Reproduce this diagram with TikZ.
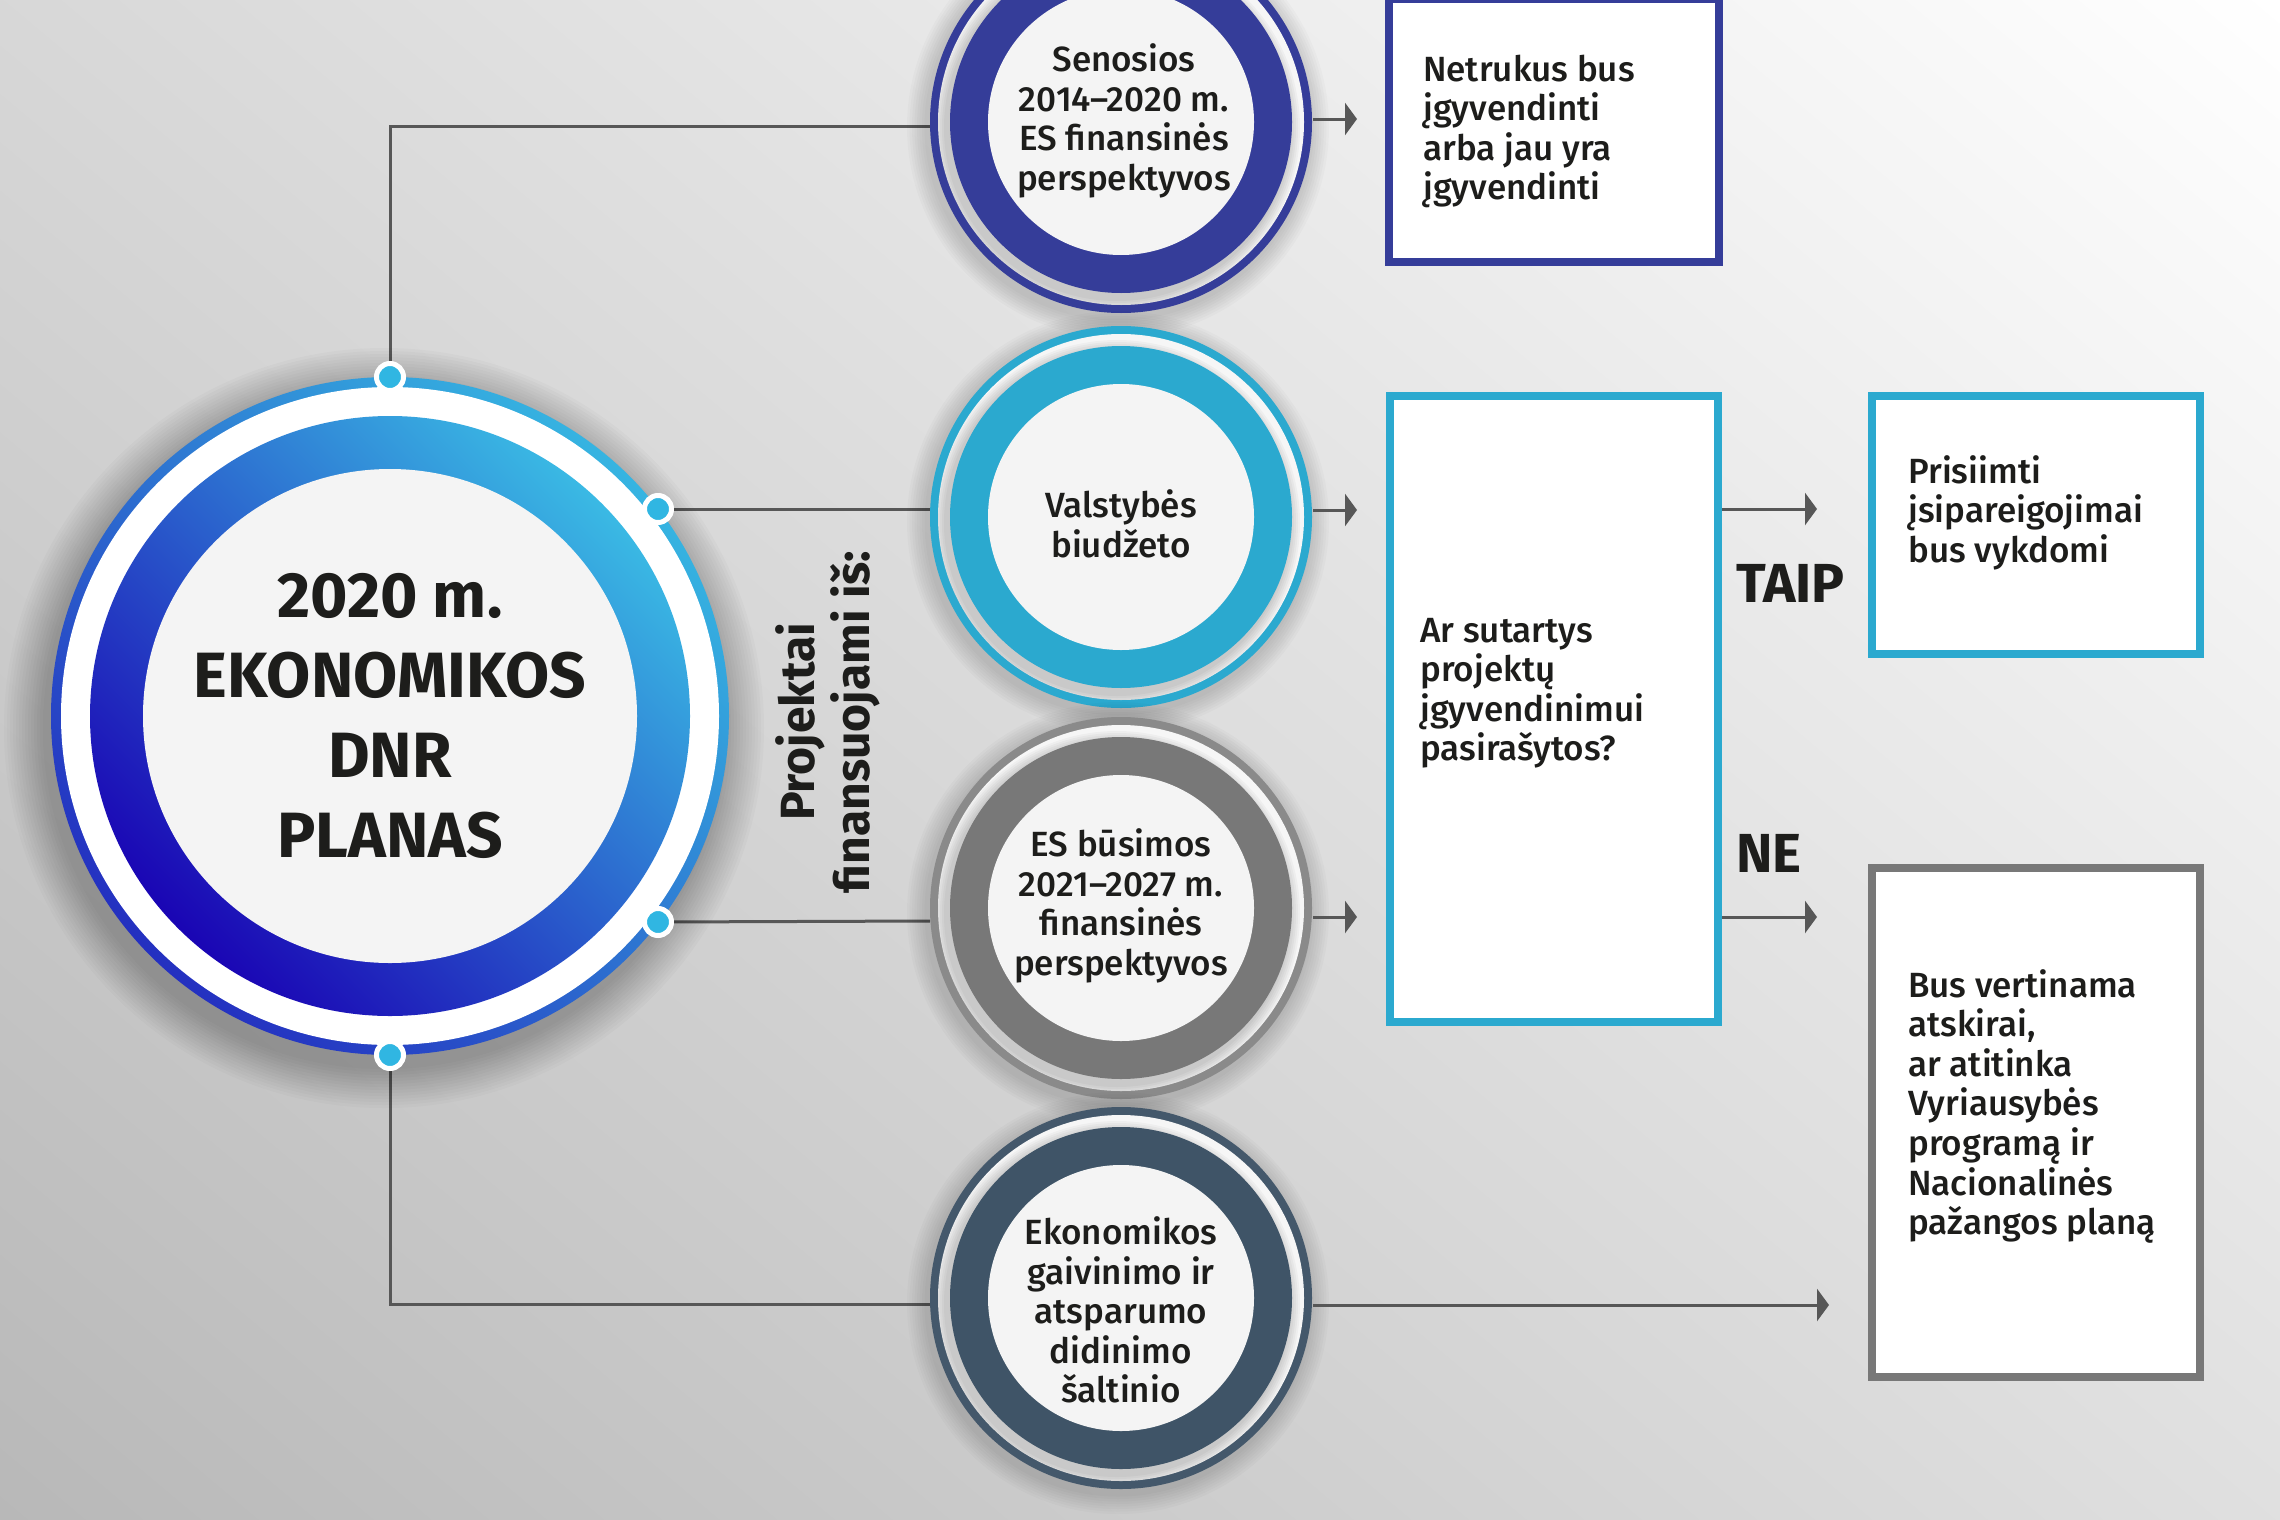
\documentclass[tikz,border=0pt]{standalone}
\usepackage{fontspec}
\setmainfont{Fira Sans}[UprightFont=* Medium, BoldFont=* Bold]
\usetikzlibrary{arrows.meta}
\definecolor{bgdark}{HTML}{B8B8B8}
\definecolor{bgmid}{HTML}{E4E4E4}
\definecolor{bglight}{HTML}{FFFFFF}
\definecolor{txt}{HTML}{1D1D1B}
\definecolor{navy}{HTML}{353D99}
\definecolor{cyanb}{HTML}{2BA9CF}
\definecolor{grayb}{HTML}{787878}
\definecolor{grayo}{HTML}{8A8A8A}
\definecolor{slate}{HTML}{3F5467}
\definecolor{slateo}{HTML}{44586B}
\definecolor{mainA}{HTML}{3AB9E4}
\definecolor{mainB}{HTML}{1A05B4}
\definecolor{ringA}{HTML}{36B4E1}
\definecolor{ringB}{HTML}{2430C0}
\definecolor{dotc}{HTML}{30B6E2}
\definecolor{innerc}{HTML}{F4F4F4}
\definecolor{gapc}{HTML}{F6F6F6}
\definecolor{linec}{HTML}{575757}
\newcommand\mycirc[4]{%
  \foreach \i in {1,...,8}{\fill[black,opacity=0.02] (#1-3,#2+5) circle[radius={191pt+\i*2.5pt}];}
  \fill[#3] (#1,#2) circle[radius=191pt];
  \fill[gapc] (#1,#2) circle[radius=183pt];
  \begin{scope}
    \clip (#1,#2) circle[radius=183pt];
    \foreach \i in {1,...,6}{\fill[black,opacity=0.03] (#1-4,#2+6) circle[radius={171pt+\i*2pt}];}
  \end{scope}
  \fill[#4] (#1,#2) circle[radius=171pt];
  \fill[innerc] (#1,#2) circle[radius=133pt];
}
\begin{document}
\begin{tikzpicture}[x=1pt,y=-1pt,
  conn/.style={draw=linec, line width=3pt},
  arr/.style={conn, -{Triangle[length=12pt,width=32pt]}},
  body/.style={text=txt, font=\fontsize{35pt}{39.6pt}\selectfont, inner sep=0pt},
  ctext/.style={body, align=center},
  btext/.style={body, align=left, anchor=base west},
  box/.style={rectangle, line width=8pt, fill=white, inner sep=0pt},
  hole/.style={circle, inner sep=0pt, minimum size=382pt},
  dot/.style={circle, fill=dotc, draw=white, line width=5pt, minimum size=27pt, inner sep=0pt},
  yesno/.style={text=txt, font=\fontsize{55pt}{60pt}\selectfont\bfseries, inner sep=0pt, anchor=base west}]
\useasboundingbox (0,0) rectangle (2280,1520);
% background
\begin{scope}
  \clip (0,0) rectangle (2280,1520);
  \shade[transform canvas={shift={(1140,760)},rotate=-40}, top color=bglight, middle color=bgmid, bottom color=bgdark]
    (-1700,-1315) rectangle (1700,1315);
\end{scope}
% named anchors for the connectors
\node[circle, inner sep=0pt, minimum size=678pt] (main) at (390,716) {};
\node[hole] (c1) at (1121,122) {};
\node[hole] (c2) at (1121,517) {};
\node[hole] (c3) at (1121,908) {};
\node[hole] (c4) at (1121,1298) {};
\coordinate (c1w) at (930,126);
\coordinate (c2w) at (930,509);
\coordinate (c3w) at (930,921);
\coordinate (c4w) at (930,1304);
\coordinate (c1e) at (1313,119);
\coordinate (c2e) at (1313,510);
\coordinate (c3e) at (1313,917);
\coordinate (c4e) at (1313,1305);
\coordinate (t1) at (1357,119);
\coordinate (t2) at (1357,510);
\coordinate (t3) at (1357,917);
\coordinate (t4) at (1829,1305);
\coordinate (b2y) at (1722,509);
\coordinate (b2n) at (1722,917);
\coordinate (ty) at (1817,509);
\coordinate (tn) at (1817,917);
% dot positions
\coordinate (pdt) at (390,377);
\coordinate (pdu) at (658,509);
\coordinate (pdl) at (658,922);
\coordinate (pdb) at (390,1055);
% connectors from the main circle
\draw[conn] (pdt) |- (c1w);
\draw[conn] (pdu) -- (c2w);
\draw[conn] (pdl) -- (c3w);
\draw[conn] (pdb) |- (c4w);
% main circle
\foreach \i in {1,...,14}{\fill[black,opacity=0.02] (384,728) circle[radius={338pt+\i*3pt}];}
\shade[top color=ringA, bottom color=ringB, shading angle=-45] (main.center) circle[radius=339pt];
\fill[white] (main.center) circle[radius=329pt];
\shade[top color=mainA, bottom color=mainB, shading angle=-45] (main.center) circle[radius=300pt];
\fill[innerc] (main.center) circle[radius=247pt];
\node[text=txt, font=\fontsize{64pt}{80pt}\selectfont\bfseries, align=center, inner sep=0pt] at (390,716)
  {2020 m.\\EKONOMIKOS\\DNR\\PLANAS};
\node[dot] (dt) at (pdt) {};
\node[dot] (du) at (pdu) {};
\node[dot] (dl) at (pdl) {};
\node[dot] (db) at (pdb) {};
% rotated label
\node[rotate=90, text=txt, font=\fontsize{48pt}{55pt}\selectfont\bfseries, align=center, inner sep=0pt] at (828,722)
  {Projektai\\finansuojami iš:};
% source circles
\mycirc{1121}{122}{navy}{navy}
\mycirc{1121}{517}{cyanb}{cyanb}
\mycirc{1121}{908}{grayo}{grayb}
\mycirc{1121}{1298}{slateo}{slate}
\node[ctext] at (1124,121) {Senosios\\2014–2020 m.\\ES finansinės\\perspektyvos};
\node[ctext] at (1121,524) {Valstybės\\biudžeto};
\node[ctext] at (1121,906) {ES būsimos\\2021–2027 m.\\finansinės\\perspektyvos};
\node[ctext] at (1121,1310) {Ekonomikos\\gaivinimo ir\\atsparumo\\didinimo\\šaltinio};
% arrows from circles
\draw[arr] (c1e) -- (t1);
\draw[arr] (c2e) -- (t2);
\draw[arr] (c3e) -- (t3);
\draw[arr] (c4e) -- (t4);
% boxes
\node[box, draw=navy, minimum width=330pt, minimum height=263pt] (b1) at (1554,130.5) {};
\node[box, draw=cyanb, minimum width=328pt, minimum height=626pt] (b2) at (1554,709) {};
\node[box, draw=cyanb, minimum width=328pt, minimum height=258pt] (b3) at (2036,525) {};
\node[box, draw=grayb, minimum width=328pt, minimum height=509pt] (b4) at (2036,1122.5) {};
% multi-line nodes: base = baseline of the last line
\node[btext] at (1423,199.8) {Netrukus bus\\įgyvendinti\\arba jau yra\\įgyvendinti};
\node[btext] at (1420,760.8) {Ar sutartys\\projektų\\įgyvendinimui\\pasirašytos?};
\node[btext] at (1908,562.2) {Prisiimti\\įsipareigojimai\\bus vykdomi};
\node[btext] at (1908,1234.6) {Bus vertinama\\atskirai,\\ar atitinka\\Vyriausybės\\programą ir\\Nacionalinės\\pažangos planą};
% decision arrows
\draw[arr] (b2y) -- (ty);
\draw[arr] (b2n) -- (tn);
\node[yesno] at (1736,602) {TAIP};
\node[yesno] at (1736,872) {NE};
\end{tikzpicture}
\end{document}
